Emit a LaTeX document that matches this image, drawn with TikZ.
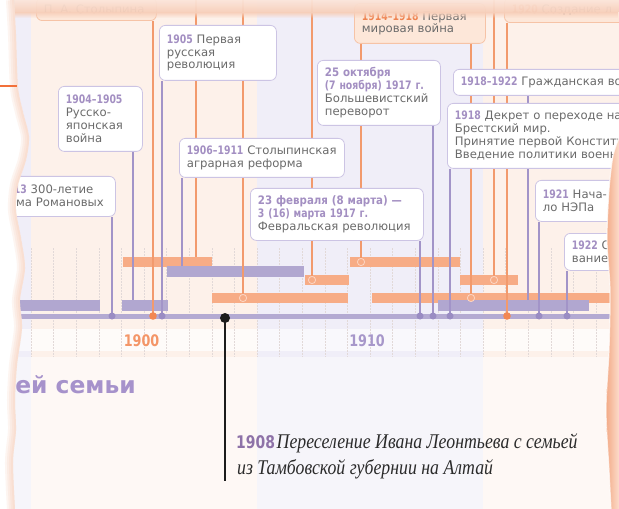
\documentclass[tikz,border=0pt]{standalone}
\usepackage{fontspec}
\setmainfont{DejaVu Sans}
\newfontfamily\yearfont[FakeStretch=0.8]{DejaVu Sans}
\newfontfamily\datefont[FakeStretch=0.88]{DejaVu Sans}
\newfontfamily\handfont[FakeStretch=0.85]{Liberation Serif}
\usetikzlibrary{fadings}

\pgfdeclarelayer{bg}
\pgfdeclarelayer{mid}
\pgfsetlayers{bg,mid,main}

\definecolor{lavup}{HTML}{F0EEF8}
\definecolor{peachup}{HTML}{FDF1EA}
\definecolor{lavlow}{HTML}{F6F5FA}
\definecolor{peachlow}{HTML}{FEF8F5}
\definecolor{lavstrip}{HTML}{F9F8FC}
\definecolor{peachstrip}{HTML}{FEFBF9}
\definecolor{gridcol}{HTML}{E2D9D8}
\definecolor{pbarcol}{HTML}{B1A7D0}
\definecolor{obarcol}{HTML}{F7AC86}
\definecolor{axiscol}{HTML}{B4AAD2}
\definecolor{plinecol}{HTML}{A294C8}
\definecolor{olinecol}{HTML}{F29A6D}
\definecolor{pdotcol}{HTML}{9A8CC3}
\definecolor{odotcol}{HTML}{F28752}
\definecolor{ocirccol}{HTML}{FCD6C4}
\definecolor{boxline}{HTML}{CCC4E4}
\definecolor{orline}{HTML}{F6C3A6}
\definecolor{orfill}{HTML}{FDE7D9}
\definecolor{bodygray}{HTML}{6B6B6B}
\definecolor{yrpurple}{HTML}{A38FC2}
\definecolor{yrorange}{HTML}{EE8350}
\definecolor{lab1900}{HTML}{F49668}
\definecolor{lab1910}{HTML}{A797CA}
\definecolor{headcol}{HTML}{A692CB}
\definecolor{famyear}{HTML}{8E72A8}
\definecolor{famblack}{HTML}{1C1C1C}
\definecolor{handcol}{HTML}{2B2B2B}
\definecolor{topA}{HTML}{FBE5DA}
\definecolor{topB}{HTML}{F7CFBA}
\definecolor{glowcol}{HTML}{F6C2A8}
\definecolor{tailcol}{HTML}{F2703A}
\definecolor{rightA}{HTML}{F3AA86}
\definecolor{rightB}{HTML}{FCDCCB}

\newcommand\boxfont{\fontsize{11.7}{13}\selectfont}
\newcommand\yp[1]{{\yearfont\bfseries\color{yrpurple}#1}}
\newcommand\yd[1]{{\datefont\bfseries\color{yrpurple}#1}}
\newcommand\yo[1]{{\yearfont\bfseries\color{yrorange}#1}}

\tikzfading[name=shadowdown, top color=transparent!0, bottom color=transparent!100]

\tikzset{
    evbox/.style={draw=boxline, fill=white, text=bodygray, line width=0.8bp,
        rounded corners=6bp, anchor=north west, align=left,
        inner xsep=7.5bp, inner ysep=2bp, font=\boxfont},
    orbox/.style={evbox, draw=orline, fill=orfill},
    pline/.style={draw=plinecol, line width=1.3bp},
    oline/.style={draw=olinecol, line width=1.3bp},
    pbar/.style={fill=pbarcol},
    obar/.style={fill=obarcol},
    gridline/.style={draw=gridcol, line width=0.5bp, dash pattern=on 1.5bp off 1.5bp},
    yearlabel/.style={font=\yearfont\bfseries\fontsize{16}{16}\selectfont},
    leftedge/.style={insert path={-- plot[smooth] coordinates {(14,0) (16,35) (18,87)
        (23,112) (29,137) (26,160) (18,185) (16,210) (21,238) (25,268) (20,300)
        (22,328) (17,365) (15,400) (16,430) (13,462) (15,509)}}},
    rightedge/.style={insert path={-- plot[smooth] coordinates {(619,138) (613,156)
        (609,190) (607,240) (610,290) (609,350) (606,410) (609,470) (611,509)}}}
}

\begin{document}
\begin{tikzpicture}[x=1bp,y=-1bp]
\useasboundingbox (0,0) rectangle (619,509);
\clip (0,0) rectangle (619,509);

% decades
\begin{pgfonlayer}{bg}
\fill[lavup] (0,0) rectangle (31,357);
\fill[peachup] (31,0) rectangle (257,357);
\fill[lavup] (257,0) rectangle (483,357);
\fill[peachup] (483,0) rectangle (619,357);
\fill[lavlow] (0,357) rectangle (31,509);
\fill[peachlow] (31,357) rectangle (257,509);
\fill[lavlow] (257,357) rectangle (483,509);
\fill[peachlow] (483,357) rectangle (619,509);
\fill[lavstrip] (0,329) rectangle (31,351);
\fill[peachstrip] (31,329) rectangle (257,351);
\fill[lavstrip] (257,329) rectangle (483,351);
\fill[peachstrip] (483,329) rectangle (619,351);
\foreach \k in {0,...,26}
    \draw[gridline] ({31+22.6*\k},248) -- ({31+22.6*\k},357);
% periods
\foreach \xa/\xb/\ya in {123/212/257, 212/348/293, 372/625/293, 305/349/275, 350/460/257, 460/518/275}
    \fill[obar] (\xa,\ya) rectangle (\xb,\ya+10);
\foreach \xa/\xb/\ya in {10/100/300, 122/168/300, 167/304/266, 438/589/300}
    \fill[pbar] (\xa,\ya) rectangle (\xb,\ya+10.5);
\end{pgfonlayer}

% events
\node[orbox, anchor=south west, text width=105bp, minimum height=23bp] (bStol) at (36,21) {П. А. Столыпина};
\node[orbox, anchor=south west, text width=185bp, minimum height=25bp] (b1920) at (504,23) {\yo{1920} Создание л};
\node[orbox, text width=116bp, minimum height=40bp] (b1914) at (354,3) {\yo{1914–1918} Первая\\мировая война};
\node[evbox, text width=102bp, minimum height=55bp] (b1905) at (159,25) {\yp{1905} Первая\\русская\\революция};
\node[evbox, text width=69bp, minimum height=65bp] (b1904) at (58,86) {\yp{1904–1905}\\Русско-\\японская\\война};
\node[evbox, text width=150bp, minimum height=39bp] (b1906) at (179,138) {\yp{1906–1911} Столыпинская\\аграрная реформа};
\node[evbox, text width=107bp, minimum height=40bp] (b1913) at (-7,176) {\yp{1913} 300-летие\\дома Романовых};
\node[evbox, text width=108bp, minimum height=65bp] (b25oct) at (317,60) {\yd{25 октября}\\\yp{(7 ноября) 1917 г.}\\Большевистский\\переворот};
\node[evbox, text width=158bp, minimum height=52bp] (b23feb) at (250,188) {\yd{23 февраля (8 марта) —}\\\yp{3 (16) марта 1917 г.}\\Февральская революция};
\node[evbox, text width=225bp, minimum height=26bp] (bCivil) at (453,69) {\yp{1918–1922} Гражданская война};
\node[evbox, text width=325bp, minimum height=65bp] (b1918) at (447,103) {\yp{1918} Декрет о переходе на новый календарь.\\Брестский мир.\\Принятие первой Конституции РСФСР.\\Введение политики военного коммунизма.};
\node[evbox, text width=75bp, minimum height=41bp] (b1921) at (535,180) {\yp{1921} Нача-\\ло НЭПа};
\node[evbox, text width=85bp, minimum height=37bp] (b1922) at (564,233) {\yp{1922} Образо-\\вание СССР};

% connectors
\begin{pgfonlayer}{mid}
\coordinate (dRom) at (112,316);
\coordinate (d1905) at (162,316);
\coordinate (dFeb) at (420,316);
\coordinate (dOct) at (433,316);
\coordinate (d1918) at (450,316);
\coordinate (d1921) at (539,316);
\coordinate (d1922) at (567,316);
\coordinate (dStol) at (153,316);
\coordinate (d1920) at (507,316);
\coordinate (e196) at (196,257);
\coordinate (e1904) at (133,300);
\coordinate (e1906) at (182,266);
\coordinate (eCivil) at (528,300);
\coordinate (c243) at (243,298);
\coordinate (c312) at (312,280);
\coordinate (c361) at (361,262);
\coordinate (c471) at (471,298);
\coordinate (c494) at (494,280);
\coordinate (t196) at (196,0);
\coordinate (t243) at (243,0);
\coordinate (t312) at (312,0);
\coordinate (t494) at (494,0);
\draw[pline] (b1913.south -| dRom) -- (dRom);
\draw[pline] (b1904.south -| e1904) -- (e1904);
\draw[pline] (b1905.south -| d1905) -- (d1905);
\draw[pline] (b1906.south -| e1906) -- (e1906);
\draw[pline] (b23feb.south -| dFeb) -- (dFeb);
\draw[pline] (b25oct.south -| dOct) -- (dOct);
\draw[pline] (b1918.south -| d1918) -- (d1918);
\draw[pline] (bCivil.south -| eCivil) -- (eCivil);
\draw[pline] (b1921.south -| d1921) -- (d1921);
\draw[pline] (b1922.south -| d1922) -- (d1922);
\draw[oline] (bStol.south -| dStol) -- (dStol);
\draw[oline] (b1920.south -| d1920) -- (d1920);
\draw[oline] (b1914.south -| c361) -- (c361);
\draw[oline] (b1914.south -| c471) -- (c471);
\draw[oline] (t196) -- (e196);
\draw[oline] (t243) -- (c243);
\draw[oline] (t312) -- (c312);
\draw[oline] (t494) -- (c494);
% time axis
\draw[axiscol, line width=5bp] (10,316.5) -- (619,316.5);
\foreach \d in {dRom,d1905,dFeb,dOct,d1918,d1921,d1922}
    \fill[pdotcol] (\d) circle (3.5bp);
\foreach \d in {dStol,d1920}
    \fill[odotcol] (\d) circle (3.8bp);
\foreach \c in {c243,c312,c361,c471,c494}
    \filldraw[fill=obarcol, draw=ocirccol, line width=0.8bp] (\c) circle (3.6bp);
\end{pgfonlayer}

\node[yearlabel, text=lab1900] (y1900) at (141.5,340.5) {1900};
\node[yearlabel, text=lab1910] (y1910) at (367,340.5) {1910};

% family
\coordinate (d1908) at (225,318);
\coordinate (famEnd) at (225,481);
\draw[famblack, line width=1.6bp] (d1908) -- (famEnd);
\fill[famblack] (d1908) circle (5bp);
\node[anchor=base east, inner sep=0pt, text=headcol, font=\bfseries\fontsize{23.5}{24}\selectfont] (famTitle) at (136,393) {История моей семьи};
\node[anchor=base west, inner sep=0pt] (fam1) at (236,448) {{\yearfont\bfseries\color{famyear}\fontsize{17.5}{18}\selectfont 1908}\,{\handfont\itshape\color{handcol}\fontsize{21}{23}\selectfont Переселение Ивана Леонтьева с семьей}};
\node[anchor=base west, inner sep=0pt, text=handcol, font=\handfont\itshape\fontsize{21}{23}\selectfont] (fam2) at (237,474) {из Тамбовской губернии на Алтай};

% paper edges
\shade[top color=topA, bottom color=topB, opacity=0.95] (0,0) rectangle (619,12);
\fill[topB, path fading=shadowdown] (0,12) rectangle (619,18);
\fill[white] (0,0) [leftedge] -- (0,509) -- cycle;
\begin{scope}
    \clip (0,0) [leftedge] -- (0,509) -- cycle;
    \foreach \w in {4,8,12,16}
        \draw[glowcol, line width=\w bp, opacity=0.16] (14,0) [leftedge];
\end{scope}
\draw[tailcol, line width=2bp] (0,86) -- (17,86);
\shade[left color=rightA, right color=rightB] (619,138) [rightedge] -- (619,509) -- cycle;
\draw[white, line width=1.2bp, opacity=0.7] (619,138) [rightedge];
\end{tikzpicture}
\end{document}
